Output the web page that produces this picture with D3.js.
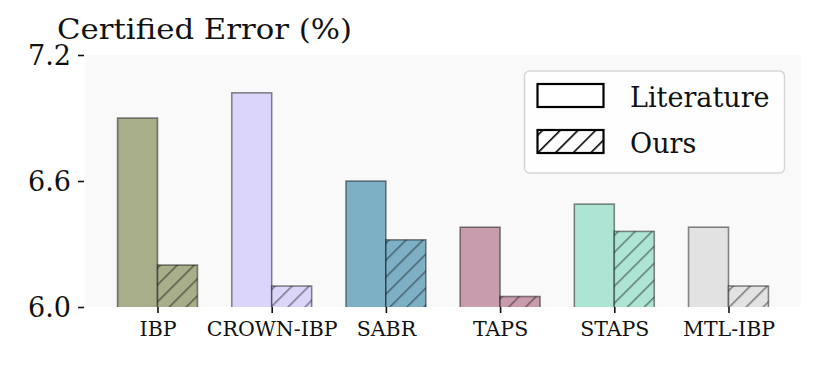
<!DOCTYPE html>
<html><head><meta charset="utf-8">
<script src="https://cdn.jsdelivr.net/npm/d3@7"></script>
<style>body{margin:0;background:#fff}svg{display:block}svg text{font-family:"DejaVu Serif",serif !important;fill:#111}</style>
</head><body><svg id="c" width="831" height="371"></svg>
<script>
const categories = ["IBP","CROWN-IBP","SABR","TAPS","STAPS","MTL-IBP"];
const literature = [6.90, 7.02, 6.60, 6.38, 6.49, 6.38];
const ours = [6.20, 6.10, 6.32, 6.05, 6.36, 6.10];
const colors = ["#a8ad8a","#dcd5fa","#7eb0c5","#c89cac","#aee4d4","#e2e2e2"];
const yTicks = [6.0, 6.6, 7.2];
const seriesNames = ["Literature","Ours"];

const svg = d3.select("#c");
const L=85,R=801,T=55,B=307;
const barW = 0.35;
const x = d3.scaleLinear().domain([-0.635, 5.635]).range([L,R]);
const y = d3.scaleLinear().domain([6.0, 7.2]).range([B,T]);

const defs = svg.append("defs");
const hp = defs.append("pattern").attr("id","hatch").attr("patternUnits","userSpaceOnUse")
  .attr("width",12).attr("height",12).attr("patternTransform","rotate(45)");
hp.append("line").attr("x1",0).attr("y1",-2).attr("x2",0).attr("y2",14)
  .attr("stroke","#000").attr("stroke-opacity",0.45).attr("stroke-width",3);
const hl = defs.append("pattern").attr("id","hatchL").attr("patternUnits","userSpaceOnUse")
  .attr("width",12.5).attr("height",12.5).attr("patternTransform","rotate(45)");
hl.append("line").attr("x1",0).attr("y1",-2).attr("x2",0).attr("y2",15)
  .attr("stroke","#000").attr("stroke-width",3.2);
defs.append("clipPath").attr("id","clip").append("rect").attr("x",L).attr("y",T-5).attr("width",R-L).attr("height",B-T+5);

svg.append("rect").attr("x",L).attr("y",T).attr("width",R-L).attr("height",B-T).attr("fill","#f9f9f9");

const g = svg.append("g").attr("clip-path","url(#clip)");
categories.forEach((c,i)=>{
  const xl = x(i-barW), xm = x(i), xr = x(i+barW);
  g.append("rect").attr("x",xl).attr("y",y(literature[i])).attr("width",xm-xl).attr("height",y(6.0)-y(literature[i])+3)
    .attr("fill",colors[i]).attr("stroke","#000").attr("stroke-opacity",0.45).attr("stroke-width",1.6);
  g.append("rect").attr("x",xm).attr("y",y(ours[i])).attr("width",xr-xm).attr("height",y(6.0)-y(ours[i])+3)
    .attr("fill",colors[i]);
  g.append("rect").attr("x",xm).attr("y",y(ours[i])).attr("width",xr-xm).attr("height",y(6.0)-y(ours[i])+3)
    .attr("fill","url(#hatch)").attr("stroke","#000").attr("stroke-opacity",0.45).attr("stroke-width",1.6);
});

const ya = svg.append("g").attr("transform",`translate(${L-1},0)`)
  .call(d3.axisLeft(y).tickValues(yTicks).tickFormat(d3.format(".1f")).tickSize(6).tickPadding(7));
ya.select(".domain").remove();
ya.attr("font-family",null);
ya.selectAll(".tick line").attr("stroke","#111").attr("stroke-width",1.6);
ya.selectAll(".tick text").attr("font-size",27).attr("dy","0.36em").attr("fill","#111");

const xa = svg.append("g").attr("transform",`translate(0,${B})`)
  .call(d3.axisBottom(x).tickValues(d3.range(categories.length)).tickFormat(i=>categories[i]).tickSize(6).tickPadding(8));
xa.select(".domain").remove();
xa.attr("font-family",null);
xa.selectAll(".tick line").attr("stroke","#111").attr("stroke-width",1.6);
xa.selectAll(".tick text").attr("font-size",20.5).attr("fill","#111");

svg.append("text").attr("x",57).attr("y",39).attr("font-size",28)
  .attr("textLength",295).attr("lengthAdjust","spacingAndGlyphs").text("Certified Error (%)");

const lg = svg.append("g");
lg.append("rect").attr("x",524.5).attr("y",71).attr("width",260).attr("height",102).attr("rx",5)
  .attr("fill","#fefefe").attr("stroke","#d6d6d6").attr("stroke-width",1.5);
seriesNames.forEach((s,k)=>{
  const yy = 84 + k*46;
  lg.append("rect").attr("x",537.5).attr("y",yy).attr("width",66).attr("height",23)
    .attr("fill", k===0 ? "#fff" : "url(#hatchL)").attr("stroke","#000").attr("stroke-width",2.2);
  lg.append("text").attr("x",630).attr("y",yy+23).attr("font-size",27).text(s);
});
</script></body></html>
